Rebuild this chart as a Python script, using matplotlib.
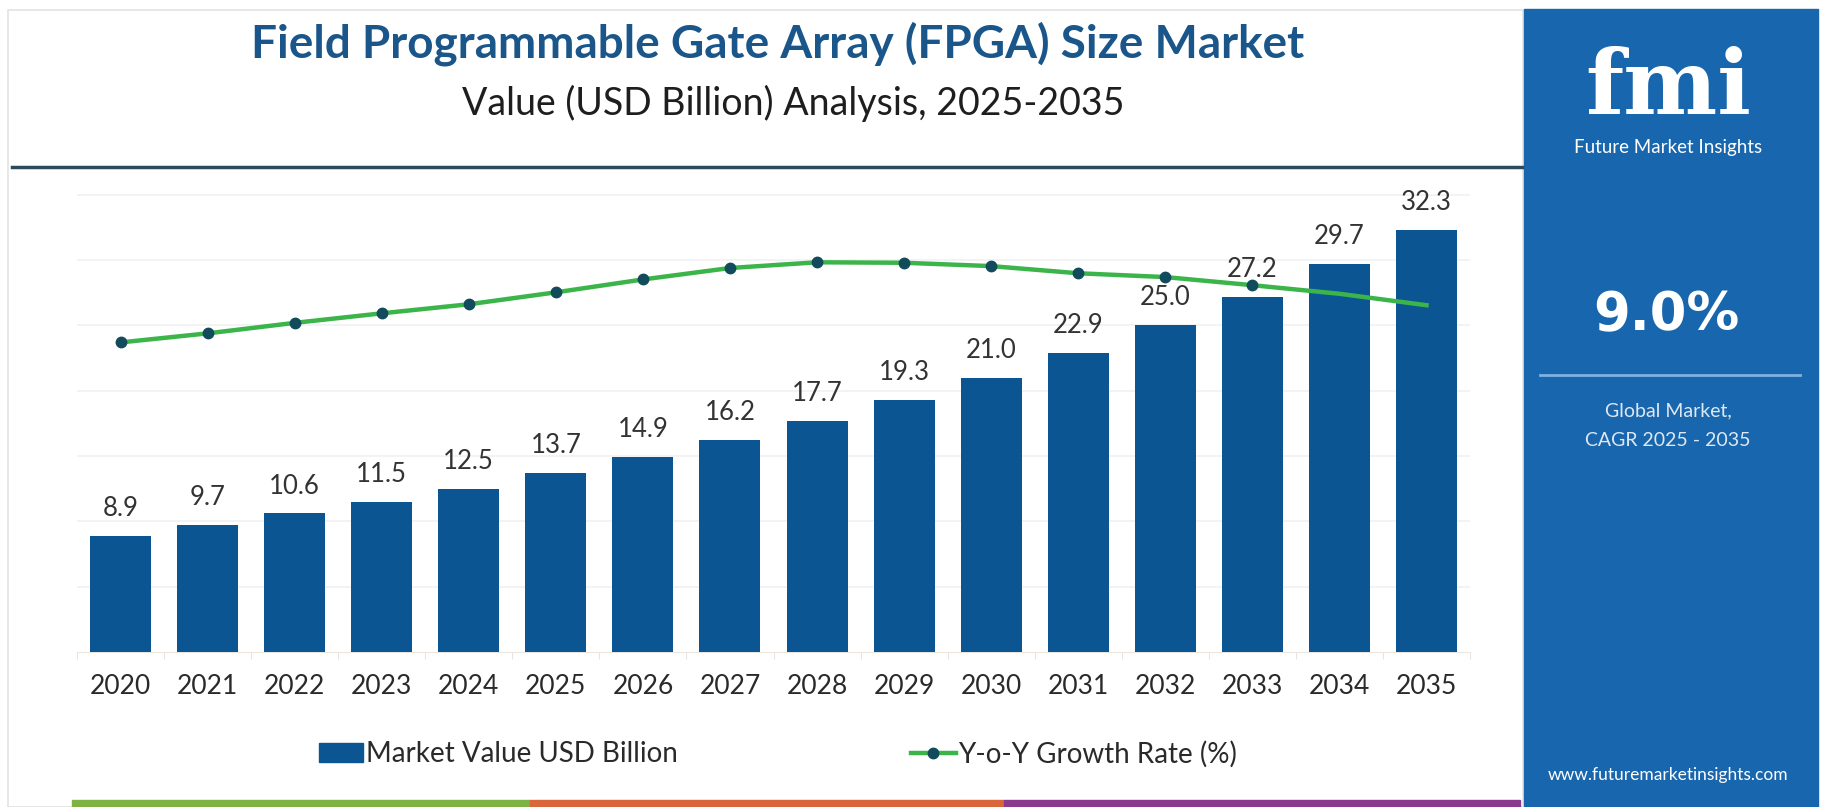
import matplotlib
matplotlib.use('Agg')
import matplotlib.pyplot as plt
from matplotlib.patches import Rectangle
from matplotlib.lines import Line2D

# data
years = [2020, 2021, 2022, 2023, 2024, 2025, 2026, 2027,
         2028, 2029, 2030, 2031, 2032, 2033, 2034, 2035]
market_value = [8.9, 9.7, 10.6, 11.5, 12.5, 13.7, 14.9, 16.2,
                17.7, 19.3, 21.0, 22.9, 25.0, 27.2, 29.7, 32.3]
# growth line has no scale on the chart, values estimated from its shape
yoy_growth = [6.49, 6.68, 6.90, 7.10, 7.29, 7.54, 7.81, 8.05,
              8.17, 8.16, 8.09, 7.94, 7.86, 7.69, 7.51, 7.27]

title = "Field Programmable Gate Array (FPGA) Size Market"
subtitle = "Value (USD Billion) Analysis, 2025-2035"
cagr = "9.0%"

W, H = 1827, 807
BAR = '#0b5593'
PANEL = '#1866ad'
GREEN = '#3bb54a'
DOT = '#124b5c'

plt.rcParams['font.family'] = ['Lato', 'DejaVu Sans']

fig = plt.figure(figsize=(W / 100, H / 100), dpi=100)
fig.patch.set_facecolor('white')

def fx(x):
    return x / W

def fy(y):
    return 1 - y / H

# card border and header rule
fig.add_artist(Rectangle((fx(8), fy(807)), fx(1515), fy(10) - fy(807), transform=fig.transFigure,
                         fill=False, edgecolor='#e3e3e3', lw=1.2))
fig.add_artist(Line2D([fx(12), fx(1522)], [fy(167), fy(167)], transform=fig.transFigure,
                      color='#2d4a5c', lw=2.5))

fig.text(fx(778), fy(44), title, ha='center', va='center', fontsize=33,
         fontweight='bold', color='#1a5689')
fig.text(fx(793), fy(103), subtitle, ha='center', va='center', fontsize=27, color='#1e1e1e')

# main chart
ax = fig.add_axes([fx(77), fy(652), fx(1470) - fx(77), fy(175) - fy(652)])
x = list(range(len(years)))
ax.bar(x, market_value, width=0.7, color=BAR, zorder=3)
for i, v in enumerate(market_value):
    ax.text(i, v + 2.1, f"{v:.1f}", ha='center', va='center', fontsize=18.5, color='#333333')
ax.set_xlim(-0.5, len(years) - 0.5)
ax.set_ylim(0, 36.5)
ax.set_yticks([5, 10, 15, 20, 25, 30, 35])
ax.yaxis.grid(True, color='#f1f1f1', lw=1.2, zorder=0)
ax.set_xticks(x)
ax.set_xticklabels([str(y) for y in years], fontsize=19, color='#2a2a2a')
ax.tick_params(axis='x', length=0, pad=16)
ax.set_xticks([i - 0.5 for i in range(len(years) + 1)], minor=True)
ax.tick_params(axis='x', which='minor', length=5, color='#e6dcd4')
for s in ['top', 'right', 'left']:
    ax.spines[s].set_visible(False)
ax.spines['bottom'].set_color('#ece6e0')

ax2 = ax.twinx()
ax2.plot(x, yoy_growth, color=GREEN, lw=3.2, marker='o', markersize=7.5,
         markerfacecolor=DOT, markeredgecolor=DOT, markevery=list(range(14)), zorder=4)
ax2.set_ylim(0, 10)
ax2.axis('off')
ax.tick_params(axis='y', which='both', left=False, right=False,
               labelleft=False, labelright=False)

# legend
handles = [Rectangle((0, 0), 1, 1, color=BAR),
           Line2D([], [], color=GREEN, lw=3.2, marker='o', markersize=7.5,
                  markerfacecolor=DOT, markeredgecolor=DOT)]
fig.legend(handles, ["Market Value USD Billion", "Y-o-Y Growth Rate (%)"],
           loc='center', bbox_to_anchor=(fx(778), fy(754)), ncol=2, frameon=False,
           fontsize=20, columnspacing=8.4, handlelength=1.6, handletextpad=0.1,
           labelcolor='#2a2a2a')

# bottom colour strip
for x0, x1, c in [(72, 530, '#7cb342'), (530, 1004, '#d9653b'), (1004, 1520, '#8a3a8c')]:
    fig.add_artist(Rectangle((fx(x0), 0), fx(x1) - fx(x0), 7 / H,
                             transform=fig.transFigure, color=c))

# right side panel
fig.add_artist(Rectangle((fx(1524), 0), fx(1818) - fx(1524), fy(9), transform=fig.transFigure,
                         color=PANEL))
fig.text(fx(1668), fy(114), "fmi", ha='center', va='baseline', fontsize=64, fontweight='bold',
         family='DejaVu Serif', color='white')
fig.text(fx(1668), fy(147), "Future Market Insights", ha='center', va='center',
         fontsize=13.5, color='white')
fig.text(fx(1666), fy(315), cagr, ha='center', va='center', fontsize=38,
         fontweight='bold', family='DejaVu Sans', color='white')
fig.add_artist(Line2D([fx(1540), fx(1800)], [fy(375), fy(375)], transform=fig.transFigure,
                      color='#7fb2e0', lw=2))
fig.text(fx(1668), fy(411), "Global Market,", ha='center', va='center', fontsize=14,
         color='#dfe8f2')
fig.text(fx(1668), fy(441), "CAGR 2025 - 2035", ha='center', va='center', fontsize=14,
         color='#dfe8f2')
fig.text(fx(1668), fy(775), "www.futuremarketinsights.com", ha='center', va='center',
         fontsize=12.5, color='white')

fig.savefig('out.png', dpi=100)
